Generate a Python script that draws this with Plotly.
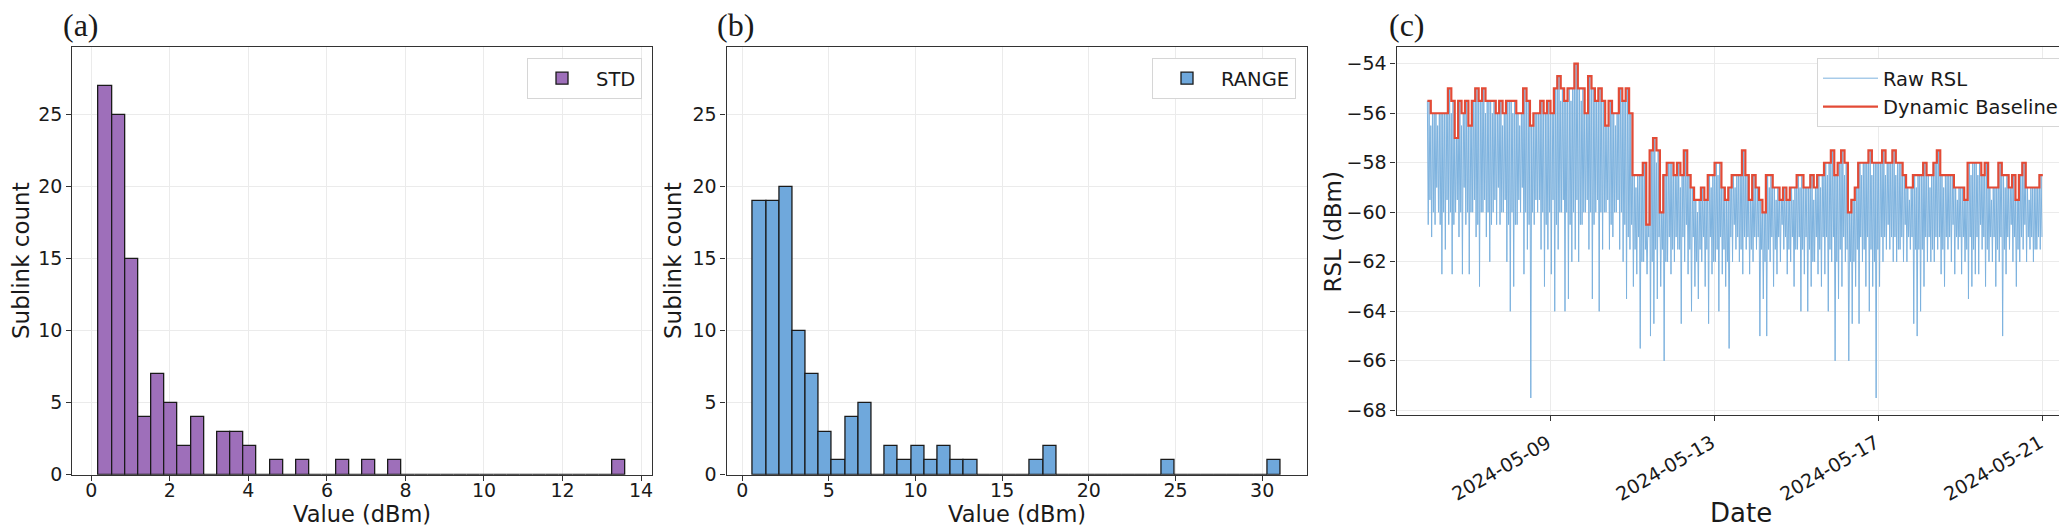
import pandas as pd
import plotly.graph_objects as go
from plotly.subplots import make_subplots

W, H = 2067, 525

# (a) histogram of per-sublink STD, 40 equal bins
std_bin_start = 0.185
std_bin_width = 0.3356
std_counts = [27, 25, 15, 4, 7, 5, 2, 4, 0, 3,
              3, 2, 0, 1, 0, 1, 0, 0, 1, 0,
              1, 0, 1, 0, 0, 0, 0, 0, 0, 0,
              0, 0, 0, 0, 0, 0, 0, 0, 0, 1]

# (b) histogram of per-sublink RANGE, 40 equal bins
range_bin_start = 0.62
range_bin_width = 0.761
range_counts = [19, 19, 20, 10, 7, 3, 1, 4, 5, 0,
                2, 1, 2, 1, 2, 1, 1, 0, 0, 0,
                0, 1, 2, 0, 0, 0, 0, 0, 0, 0,
                0, 1, 0, 0, 0, 0, 0, 0, 0, 1]

# (c) RSL time series, read per 2-hour slot from 2024-05-06 00:00
rsl_start = "2024-05-06 00:00"
rsl_end = "2024-05-21 00:00"
baseline = [
    -55.5, -56, -56, -56, -56, -56, -55, -55.5, -57, -55.5, -56, -55.5,
    -56.5, -55.5, -55, -55.5, -55, -55.5, -55.5, -55.5, -56, -55.5, -56, -55.5,
    -55.5, -55.5, -56, -56, -55, -55.5, -56.5, -56, -56, -55.5, -56, -55.5,
    -56, -55, -54.5, -55, -55.5, -55, -55, -54, -55, -55, -56, -54.5,
    -55, -55.5, -55, -55.5, -56.5, -55.5, -56, -56, -55, -55.5, -55, -56,
    -58.5, -58.5, -58.5, -58, -60.5, -57.5, -57, -57.5, -60, -58.5, -58, -58,
    -58.5, -58, -58.5, -57.5, -58.5, -59, -59.5, -59.5, -59, -59.5, -58.5, -58.5,
    -58, -58, -59, -59.5, -59, -58.5, -58.5, -58.5, -57.5, -58.5, -59.5, -58.5,
    -59, -59.5, -60, -58.5, -58.5, -59, -59, -59.5, -59, -59.5, -59, -59,
    -58.5, -58.5, -59, -59, -58.5, -59, -58.5, -58.5, -58, -58, -57.5, -58.5,
    -58, -57.5, -58, -60, -59.5, -59, -58, -58, -58, -57.5, -58, -58,
    -58, -57.5, -58, -58, -57.5, -58, -58, -58.5, -59, -59, -58.5, -58.5,
    -58.5, -58, -58.5, -58.5, -58, -57.5, -58.5, -58.5, -58.5, -58.5, -59, -59,
    -59, -59.5, -58, -58, -58, -58, -58.5, -58, -59, -59, -59, -58,
    -58.5, -58.5, -59, -58.5, -59.5, -58.5, -58, -59, -59, -59, -59, -58.5,
]
raw_top = [
    -55.5, -56.5, -56, -56.5, -56, -56, -55, -56, -57, -55.5, -56.5, -55.5,
    -56.5, -56, -55, -55.5, -55, -56, -55.5, -56, -56, -55.5, -56.5, -55.5,
    -55.5, -56, -56, -56.5, -55, -55.5, -56.5, -56.5, -56, -55.5, -56, -56,
    -56, -55, -54.5, -55.5, -55.5, -55, -55.5, -54, -55, -55.5, -56, -54.5,
    -55, -55.5, -55.5, -55.5, -56.5, -56, -56, -56.5, -55, -55.5, -55, -56,
    -58.5, -59, -58.5, -58, -60.5, -57.5, -57, -58, -60, -58.5, -58.5, -58,
    -58.5, -58, -59, -57.5, -58.5, -59, -59.5, -60, -59, -59.5, -58.5, -59,
    -58, -58.5, -59, -59.5, -59.5, -58.5, -59, -58.5, -57.5, -58.5, -59.5, -59,
    -59, -59.5, -60, -58.5, -59, -59, -59.5, -59.5, -59, -59.5, -59, -59.5,
    -58.5, -59, -59, -59, -58.5, -59.5, -58.5, -59, -58, -58.5, -57.5, -58.5,
    -58, -57.5, -58.5, -60, -59.5, -59, -58, -58.5, -58, -57.5, -58.5, -58,
    -58, -57.5, -58.5, -58, -57.5, -58.5, -58, -58.5, -59, -59.5, -58.5, -59,
    -58.5, -58, -58.5, -59, -58, -57.5, -58.5, -59, -58.5, -58.5, -59, -59.5,
    -59, -59.5, -58, -58.5, -58, -58.5, -58.5, -58, -59, -59.5, -59, -58,
    -58.5, -59, -59, -58.5, -59.5, -58.5, -58, -59, -59.5, -59, -59, -58.5,
]
raw_low = [
    -60.5, -61, -60.5, -60, -62.5, -61.5, -60.5, -62.5, -60, -61, -62.5, -60.5,
    -62.5, -60, -61, -63, -60, -61, -62, -60, -60.5, -60.5, -60, -62,
    -64, -63, -60.5, -60, -62.5, -61.5, -67.5, -60.5, -60, -61.5, -63, -61.5,
    -62.5, -64, -61.5, -60, -64, -63.5, -62, -61.5, -62, -60.5, -60, -61.5,
    -63.5, -60, -64, -61.5, -60, -61.5, -61, -60, -61.5, -62, -63.5, -61.5,
    -63, -62.5, -65.5, -62, -62.5, -65, -64.5, -63.5, -63, -66, -62, -62.5,
    -62, -61.5, -64.5, -62, -62.5, -64, -63, -63.5, -62, -63, -64.5, -62.5,
    -62, -64, -62.5, -63, -65.5, -62, -61.5, -62, -62.5, -61.5, -62.5, -62,
    -61.5, -65, -63.5, -65, -62, -63, -62.5, -62, -61.5, -62.5, -62, -63,
    -61.5, -64, -62.5, -64, -63, -62, -62.5, -63, -62.5, -64, -62, -66,
    -63.5, -63, -62, -66, -64.5, -63, -64.5, -62, -63, -64, -63, -67.5,
    -63, -62, -61.5, -61.5, -62, -62, -61.5, -62, -62, -61.5, -64.5, -65,
    -64, -63, -62, -62, -62, -61.5, -62.5, -63, -61.5, -62, -62.5, -61.5,
    -62.5, -62, -63.5, -63, -62.5, -62.5, -61.5, -63, -62, -62, -63, -62,
    -65, -62.5, -61.5, -62, -63, -62, -61.5, -62, -61.5, -62, -61.5, -61.5,
]
# lower edge of the dense part of the raw band, per slot
raw_mid = [
    -59.5, -60, -59, -60.5, -60, -59.5, -60, -60.5, -59.5, -60, -59, -60,
    -60, -59.5, -60.5, -60, -59.5, -60, -60.5, -59.5, -59, -60, -59.5, -60.5,
    -60, -60.5, -59.5, -59, -60, -60.5, -60, -59.5, -59.5, -60, -60.5, -60,
    -59.5, -60.5, -60, -59.5, -60, -60.5, -60, -59.5, -60.5, -60, -59.5, -60,
    -60.5, -59.5, -60, -60, -59.5, -60.5, -60, -59.5, -60, -60.5, -61, -60.5,
    -61.5, -61, -62, -61.5, -61, -62, -61.5, -61, -61.5, -62, -61, -61.5,
    -61, -61.5, -61, -60.5, -61.5, -61, -62, -61.5, -61, -61.5, -61, -62,
    -61.5, -61, -61.5, -62, -61, -60.5, -61, -61.5, -61, -61, -61.5, -61,
    -61, -61.5, -62, -61.5, -61, -61.5, -61, -60.5, -61, -61.5, -61, -61.5,
    -61, -61.5, -61, -61.5, -62, -61, -61.5, -61, -61, -61.5, -61, -62,
    -61.5, -61, -61.5, -62, -62, -61.5, -61, -61.5, -61, -61.5, -62, -61.5,
    -61, -61, -60.5, -61, -61, -61.5, -61, -60.5, -61, -61, -61.5, -61.5,
    -61.5, -61, -61, -61.5, -61, -61, -61.5, -61, -61, -60.5, -61, -61,
    -61, -61.5, -61, -61.5, -61, -60.5, -61, -61.5, -61, -61, -61.5, -61,
    -61.5, -61, -60.5, -61, -61.5, -61, -60.5, -61, -61, -61.5, -61, -61,
]
date_ticks = ["2024-05-09", "2024-05-13", "2024-05-17", "2024-05-21"]

FONT = "DejaVu Sans"
INK = "#1a1a1a"
SPINE = "#333333"
GRID = "#ebebeb"


def px_x(p):
    return p / W


def px_y(p):
    return 1 - p / H


def bin_centers(start, width, counts):
    return [start + (i + 0.5) * width for i in range(len(counts))]


fig = make_subplots(rows=1, cols=3)

fig.add_trace(go.Bar(
    x=bin_centers(std_bin_start, std_bin_width, std_counts), y=std_counts,
    width=std_bin_width, name="STD", legend="legend", showlegend=True,
    marker=dict(color="#9e6fba", line=dict(color=INK, width=1.3)),
), row=1, col=1)

fig.add_trace(go.Bar(
    x=bin_centers(range_bin_start, range_bin_width, range_counts), y=range_counts,
    width=range_bin_width, name="RANGE", legend="legend2", showlegend=True,
    marker=dict(color="#6fa8dc", line=dict(color=INK, width=1.3)),
), row=1, col=2)

# raw samples every 30 min within each 2-hour slot
raw_t = pd.date_range(rsl_start, periods=4 * len(raw_top), freq="30min")
raw_y = []
for hi, lo, peak, mid in zip(raw_top, raw_low, baseline, raw_mid):
    raw_y += [hi, lo, peak, mid]
fig.add_trace(go.Scatter(
    x=raw_t, y=raw_y, mode="lines", name="Raw RSL", legend="legend3", showlegend=True,
    line=dict(color="#7db2de", width=1),
), row=1, col=3)

base_t = list(pd.date_range(rsl_start, periods=len(baseline), freq="2h")) + [pd.Timestamp(rsl_end)]
fig.add_trace(go.Scatter(
    x=base_t, y=baseline + [baseline[-1]], mode="lines", name="Dynamic Baseline",
    legend="legend3", showlegend=True,
    line=dict(color="#e34b36", width=2.2, shape="hv"),
), row=1, col=3)

axis_common = dict(
    showline=True, mirror=True, linecolor=SPINE, linewidth=1.3,
    ticks="outside", ticklen=5, tickwidth=1.2, tickcolor=SPINE,
    showgrid=True, gridcolor=GRID, gridwidth=1, zeroline=False,
    tickfont=dict(family=FONT, size=19, color=INK), automargin=False,
)

y_top = px_y(39)
fig.update_xaxes(axis_common)
fig.update_yaxes(axis_common)
fig.update_xaxes(domain=[px_x(64.3), px_x(644)], range=[-0.486, 14.28], dtick=2,
                 ticklabelstandoff=-7, row=1, col=1)
fig.update_xaxes(domain=[px_x(718.6), px_x(1298.7)], range=[-0.9, 32.57], dtick=5,
                 ticklabelstandoff=-7, row=1, col=2)
# date labels are placed below as rotated, right/top anchored texts (matplotlib style)
fig.update_xaxes(domain=[px_x(1388.6), px_x(2065.6)],
                 range=["2024-05-05 06:00", "2024-05-21 18:00"],
                 tickvals=date_ticks, showticklabels=False, row=1, col=3)
fig.update_yaxes(domain=[px_y(466.7), y_top], range=[0, 29.7], dtick=5, row=1, col=1)
fig.update_yaxes(domain=[px_y(466.7), y_top], range=[0, 29.7], dtick=5, row=1, col=2)
fig.update_yaxes(domain=[px_y(406.7), y_top], range=[-68.175, -53.325], dtick=2, row=1, col=3)

legend_common = dict(
    bgcolor="white", bordercolor="#d6d6d6", borderwidth=1,
    font=dict(family=FONT, size=19.5, color=INK),
    xanchor="right", yanchor="top", y=px_y(50),
)

annotations = []
for d in date_ticks:
    annotations.append(dict(text=d, x=d, xref="x3", y=px_y(420), yref="paper",
                            showarrow=False, xanchor="right", yanchor="top", xshift=6,
                            textangle=-30, font=dict(family=FONT, size=19, color=INK)))
for label, x in [("(a)", 72.5), ("(b)", 727.5), ("(c)", 1399)]:
    annotations.append(dict(text=label, x=px_x(x), y=px_y(17), xref="paper", yref="paper",
                            showarrow=False, xanchor="center", yanchor="middle",
                            font=dict(family="Liberation Serif", size=32, color=INK)))
for text, x, y, angle, size in [
    ("Sublink count", 13, 253, -90, 23),
    ("Sublink count", 665, 253, -90, 23),
    ("Value (dBm)", 354, 506, 0, 22.5),
    ("Value (dBm)", 1008.6, 506, 0, 22.5),
    ("RSL (dBm)", 1324.5, 224, -90, 23),
    ("Date", 1733, 505, 0, 26),
]:
    annotations.append(dict(text=text, x=px_x(x), y=px_y(y), xref="paper", yref="paper",
                            showarrow=False, xanchor="center", yanchor="middle",
                            textangle=angle, font=dict(family=FONT, size=size, color=INK)))

fig.update_layout(
    width=W, height=H,
    margin=dict(l=0, r=0, t=0, b=0),
    paper_bgcolor="white", plot_bgcolor="white",
    bargap=0, showlegend=True,
    legend=dict(legend_common, x=px_x(634), itemwidth=58),
    legend2=dict(legend_common, x=px_x(1288), itemwidth=58),
    legend3=dict(legend_common, x=px_x(2056), itemwidth=55),
    annotations=annotations,
)

fig.write_html("out.html")
